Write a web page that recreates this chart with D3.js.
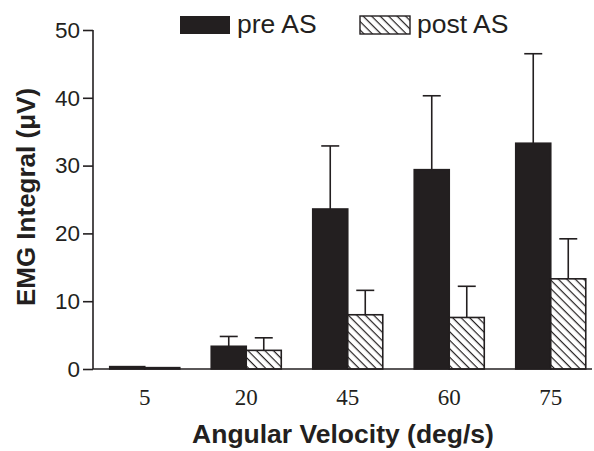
<!DOCTYPE html>
<html>
<head>
<meta charset="utf-8">
<script src="https://cdn.jsdelivr.net/npm/d3@7"></script>
<style>
  body { margin: 0; background: #fff; }
  svg { display: block; }
</style>
</head>
<body>
<script>
"use strict";

const velocities = ["5", "20", "45", "60", "75"];
const seriesNames = ["pre AS", "post AS"];
const preMean = [0.35, 3.35, 23.6, 29.4, 33.3];
const preErr = [0.0, 4.8, 32.9, 40.3, 46.5];
const postMean = [0.2, 2.75, 8.0, 7.6, 13.3];
const postErr = [0.0, 4.6, 11.6, 12.2, 19.2];
const yTicks = [0, 10, 20, 30, 40, 50];

const W = 594, H = 451;
const ink = "#231f20";
const sans = "Arial, 'Liberation Sans', sans-serif";

const svg = d3.select("body").append("svg")
  .attr("width", W).attr("height", H)
  .attr("viewBox", `0 0 ${W} ${H}`);

const defs = svg.append("defs");
const pat = defs.append("pattern")
  .attr("id", "hatch")
  .attr("patternUnits", "userSpaceOnUse")
  .attr("width", 6).attr("height", 6)
  .attr("patternTransform", "rotate(45)");
pat.append("rect").attr("width", 6).attr("height", 6).attr("fill", "#fff");
pat.append("line")
  .attr("x1", 0).attr("y1", 0).attr("x2", 6).attr("y2", 0)
  .attr("stroke", ink).attr("stroke-width", 2.4);

const x = d3.scaleBand().domain(velocities).range([94, 601.5])
  .paddingInner(0.31).paddingOuter(0.155);
const xs = d3.scaleBand().domain(seriesNames).range([0, x.bandwidth()]);
const y = d3.scaleLinear().domain([0, 50]).range([369, 30]);

const rows = velocities.map((v, i) => ({
  v,
  bars: [
    {s: seriesNames[0], m: preMean[i], e: preErr[i]},
    {s: seriesNames[1], m: postMean[i], e: postErr[i]}
  ]
}));

// error bars (upper only)
const g = svg.append("g");
rows.forEach(r => {
  r.bars.forEach(b => {
    if (b.e <= b.m) return;
    const cx = x(r.v) + xs(b.s) + xs.bandwidth() / 2;
    g.append("line").attr("x1", cx).attr("x2", cx)
      .attr("y1", y(b.m)).attr("y2", y(b.e))
      .attr("stroke", ink).attr("stroke-width", 1.6);
    g.append("line").attr("x1", cx - 9).attr("x2", cx + 9)
      .attr("y1", y(b.e)).attr("y2", y(b.e))
      .attr("stroke", ink).attr("stroke-width", 1.6);
  });
});

rows.forEach(r => {
  r.bars.forEach(b => {
    g.append("rect")
      .attr("x", x(r.v) + xs(b.s))
      .attr("y", y(b.m))
      .attr("width", xs.bandwidth())
      .attr("height", y(0) - y(b.m))
      .attr("fill", b.s === seriesNames[0] ? ink : "url(#hatch)")
      .attr("stroke", ink).attr("stroke-width", 1.6);
  });
});

// y axis
const yAxis = svg.append("g").attr("transform", "translate(93,0)")
  .call(d3.axisLeft(y).tickValues(yTicks).tickSize(10).tickPadding(3));
yAxis.select(".domain").attr("d", `M0,${y(50)}V${y(0)}`);
yAxis.selectAll("line").attr("stroke", ink).attr("stroke-width", 1.6);
yAxis.select(".domain").attr("stroke", ink).attr("stroke-width", 1.6);
yAxis.selectAll("text").attr("font-family", sans)
  .attr("font-size", 22.5).attr("fill", ink);

// x baseline
svg.append("line").attr("x1", 93).attr("x2", 592)
  .attr("y1", y(0)).attr("y2", y(0))
  .attr("stroke", ink).attr("stroke-width", 1.6);

// x tick labels
svg.append("g").selectAll("text").data(velocities).join("text")
  .attr("x", d => x(d) + x.bandwidth() / 2)
  .attr("y", 405)
  .attr("text-anchor", "middle")
  .attr("font-family", "'Liberation Serif', 'Times New Roman', serif")
  .attr("font-size", 23).attr("fill", ink)
  .text(d => d);

// axis titles
svg.append("text").attr("x", 343).attr("y", 443)
  .attr("text-anchor", "middle")
  .attr("font-family", sans)
  .attr("font-weight", "bold").attr("font-size", 26.5).attr("fill", ink)
  .text("Angular Velocity (deg/s)");

svg.append("text")
  .attr("transform", "translate(35,197) rotate(-90)")
  .attr("text-anchor", "middle")
  .attr("font-family", sans)
  .attr("font-weight", "bold").attr("font-size", 26).attr("fill", ink)
  .text("EMG Integral (\u03bcV)");

// legend
const legendX = [180, 360];
seriesNames.forEach((s, i) => {
  svg.append("rect").attr("x", legendX[i]).attr("y", 16)
    .attr("width", 50).attr("height", 18)
    .attr("fill", i === 0 ? ink : "url(#hatch)")
    .attr("stroke", ink).attr("stroke-width", i === 0 ? 0 : 1.4);
  svg.append("text").attr("x", legendX[i] + 57).attr("y", 33)
    .attr("font-family", sans)
    .attr("font-size", 26.5).attr("fill", ink)
    .text(s);
});
</script>
</body>
</html>
